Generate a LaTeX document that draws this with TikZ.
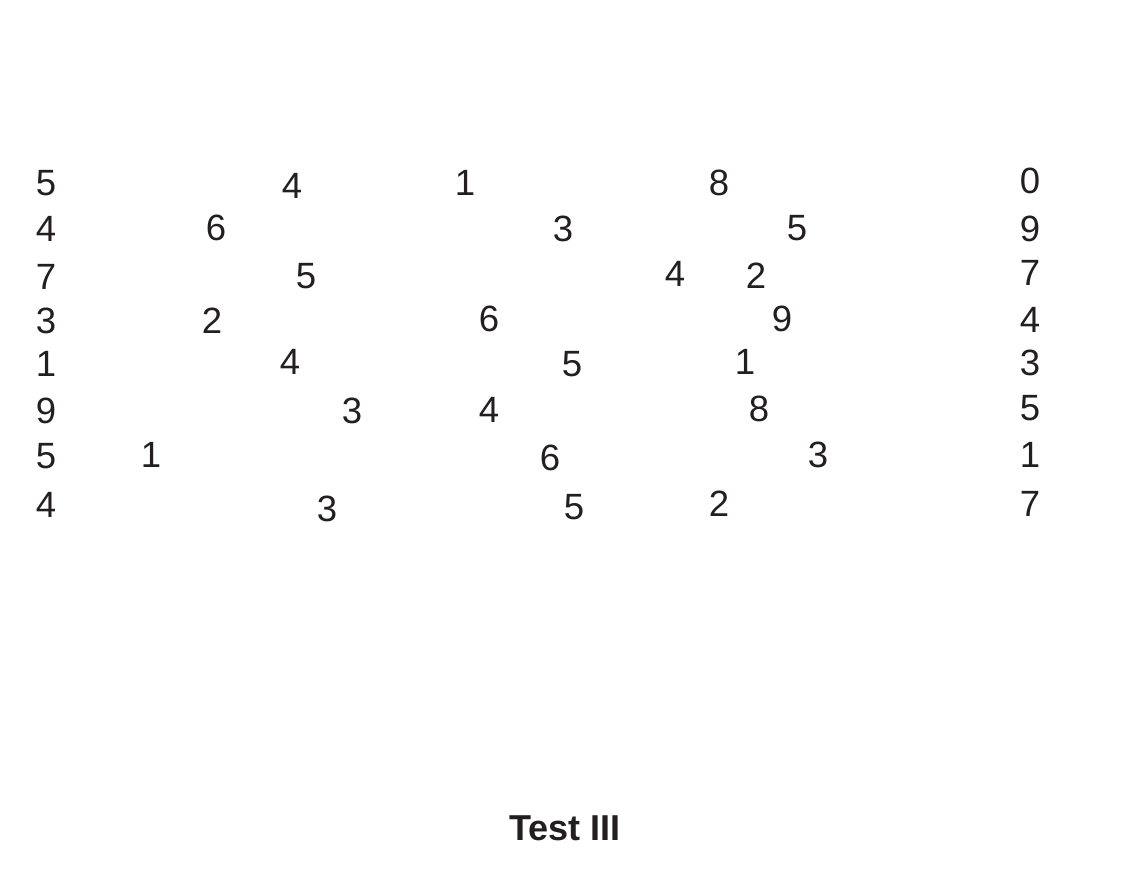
\documentclass[tikz,border=0pt]{standalone}
\usepackage{fontspec}
\setmainfont{Liberation Sans}
\definecolor{ink}{HTML}{231F20}
\begin{document}
\begin{tikzpicture}[x=0.02cm,y=-0.02cm,
  num/.style={inner sep=0pt,text=ink,font=\fontsize{20.8}{25}\selectfont},
  ttl/.style={inner sep=0pt,text=ink,font=\fontsize{20.5}{25}\selectfont\bfseries}]
\useasboundingbox[fill=white] (0,0) rectangle (1122,891);
% column 1
\node[num] (a1) at (46,183) {5};
\node[num] (a2) at (46,229) {4};
\node[num] (a3) at (46,277) {7};
\node[num] (a4) at (46,321) {3};
\node[num] (a5) at (46,364) {1};
\node[num] (a6) at (46,411) {9};
\node[num] (a7) at (46,456) {5};
\node[num] (a8) at (46,505) {4};
% last column
\node[num] (e1) at (1030,181) {0};
\node[num] (e2) at (1030,229) {9};
\node[num] (e3) at (1030,273) {7};
\node[num] (e4) at (1030,320) {4};
\node[num] (e5) at (1030,363) {3};
\node[num] (e6) at (1030,408) {5};
\node[num] (e7) at (1030,455) {1};
\node[num] (e8) at (1030,504) {7};
% row 1
\node[num] (r1a) at (292,186) {4};
\node[num] (r1b) at (465,183) {1};
\node[num] (r1c) at (719,183) {8};
% row 2
\node[num] (r2a) at (216,228) {6};
\node[num] (r2b) at (563,229) {3};
\node[num] (r2c) at (797,228) {5};
% row 3
\node[num] (r3a) at (306,276) {5};
\node[num] (r3b) at (675,274) {4};
\node[num] (r3c) at (756,276) {2};
% row 4
\node[num] (r4a) at (212,321) {2};
\node[num] (r4b) at (489,319) {6};
\node[num] (r4c) at (782,319) {9};
% row 5
\node[num] (r5a) at (290,362) {4};
\node[num] (r5b) at (572,364) {5};
\node[num] (r5c) at (745,362) {1};
% row 6
\node[num] (r6a) at (352,411) {3};
\node[num] (r6b) at (489,410) {4};
\node[num] (r6c) at (759,409) {8};
% row 7
\node[num] (r7a) at (151,455) {1};
\node[num] (r7b) at (550,458) {6};
\node[num] (r7c) at (818,455) {3};
% row 8
\node[num] (r8a) at (327,509) {3};
\node[num] (r8b) at (574,507) {5};
\node[num] (r8c) at (719,504) {2};
% title
\node[ttl] (title) at (565,828) {Test III};
\end{tikzpicture}
\end{document}
